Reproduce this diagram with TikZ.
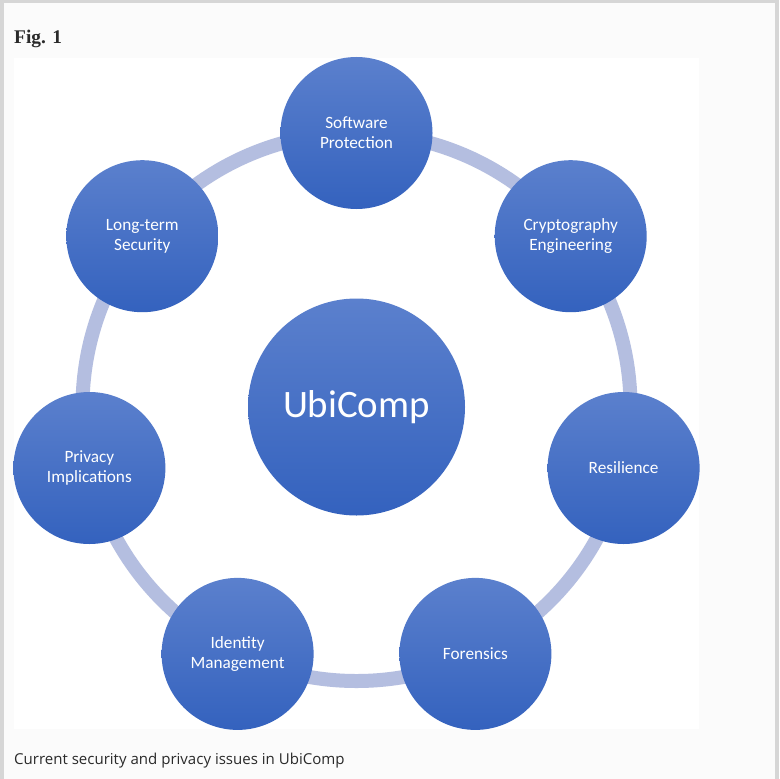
\documentclass[tikz,border=0pt]{standalone}
\usepackage{fontspec}
\setmainfont{Liberation Serif}
\newfontfamily\calib{Carlito}
\newfontfamily\capfont{Open Sans}
\definecolor{framegray}{HTML}{D6D6D6}
\definecolor{pagegray}{HTML}{FBFBFB}
\definecolor{ringblue}{HTML}{B4BEE0}
\definecolor{topblue}{HTML}{5B80CD}
\definecolor{botblue}{HTML}{3462BE}
\definecolor{figtext}{HTML}{2A2A2A}
\tikzset{
	topic/.style={circle,minimum size=152bp,inner sep=0pt,
		top color=topblue,bottom color=botblue,text=white,align=center,
		font=\calib\fontsize{17.3}{20}\selectfont},
	hub/.style={topic,minimum size=217bp,font=\calib\fontsize{39}{44}\selectfont},
	ringline/.style={draw=ringblue,line width=14bp}
}
\begin{document}
\begin{tikzpicture}[x=1bp,y=-1bp]
	% page and frame
	\fill[framegray] (0,0) rectangle (779,779);
	\fill[pagegray] (4,3) rectangle (775,779);
	\fill[white] (14,58) rectangle (699,729);
	\useasboundingbox (0,0) rectangle (779,779);
	\node[anchor=base west,inner sep=0pt,text=figtext,font=\bfseries\fontsize{19.4}{22}\selectfont]
		(figno) at (14,44) {Fig. 1};
	% hub and ring
	\coordinate (hubc) at (356.5,407);
	\draw[ringline] (hubc) circle (274bp);
	\node[hub] (ubicomp) at (hubc) {UbiComp};
	% topics round the ring
	\node[topic] (software) at (356.5,133) {Software\\Protection};
	\node[topic] (crypto) at (570.7,236.2) {Cryptography\\Engineering};
	\node[topic] (resil) at (623.6,468) {Resilience};
	\node[topic] (forens) at (475.4,653.9) {Forensics};
	\node[topic] (ident) at (237.6,653.9) {Identity\\Management};
	\node[topic] (privacy) at (89.4,468) {Privacy\\Implications};
	\node[topic] (longterm) at (142.3,236.2) {Long-term\\Security};
	% caption
	\node[anchor=base west,inner sep=0pt,text=figtext,font=\capfont\fontsize{15.1}{17}\selectfont]
		(caption) at (14,764) {Current security and privacy issues in UbiComp};
\end{tikzpicture}
\end{document}
